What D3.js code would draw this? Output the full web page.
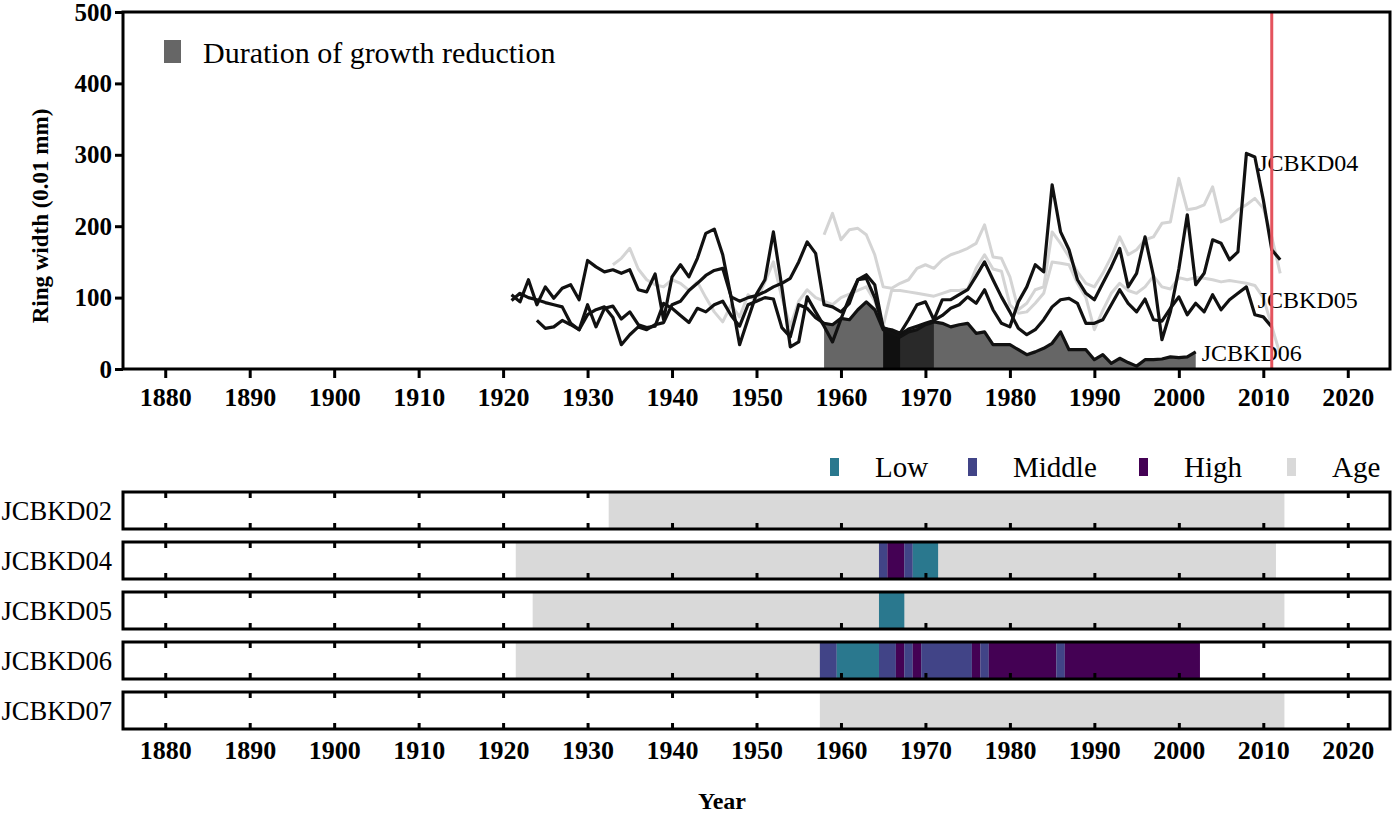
<!DOCTYPE html>
<html><head><meta charset="utf-8">
<script src="https://cdn.jsdelivr.net/npm/d3@7"></script>
<style>
body{margin:0;background:#fff}
svg{display:block}
text{font-family:"Liberation Serif","Times New Roman",Times,serif;fill:#000}
</style>
</head><body>
<svg id="c" width="1398" height="816"></svg>
<script>
// ---------------- data ----------------
const xTicks = [1880,1890,1900,1910,1920,1930,1940,1950,1960,1970,1980,1990,2000,2010,2020];
const yTicks = [0,100,200,300,400,500];

const jc02Start = 1933;
const jc02 = [146,155,169,140,125,118,115,125,120,110,122,100,80,66,90,73,104,95,122,150,100,60,95,111,100,95,90,100,105,110,115,95,60,110,110,108,106,104,102,106,110,110,112,141,160,140,137,90,78,80,92,106,150,148,146,120,100,55,82,106,120,110,106,115,130,115,112,128,125,128,127,125,122,124,122,120,117,100,60,20];

const jc04Start = 1921;
const jc04 = [104,94,125,90,115,99,113,118,97,152,143,136,139,134,139,111,108,133,69,129,146,129,155,190,196,160,100,34,70,105,125,192,115,31,38,101,80,60,38,70,100,125,127,100,58,53,48,56,60,64,68,75,85,90,101,92,111,83,64,59,94,115,146,136,258,192,167,125,106,97,120,143,169,115,134,185,130,41,80,140,216,118,134,181,176,153,164,302,297,237,167,153];

const jc05Start = 1924;
const jc05 = [68,57,59,68,62,55,76,83,87,72,34,48,59,55,62,65,90,95,110,120,131,138,141,101,95,100,103,108,115,120,127,150,178,162,90,87,80,92,125,132,118,57,55,50,69,90,94,69,97,97,104,111,130,150,125,101,80,57,48,55,69,87,97,99,92,64,64,69,90,111,92,80,98,69,67,85,101,76,92,80,104,83,97,106,115,76,73,59];

const jc06Start = 1921;
const jc06 = [96,106,100,97,93,90,87,64,55,90,59,85,88,70,80,62,58,60,92,85,75,65,85,80,90,95,75,60,90,95,100,98,58,45,90,85,72,64,62,71,69,83,94,83,55,50,45,52,55,62,66,64,59,62,64,50,52,34,34,34,27,20,24,29,36,52,27,27,27,13,20,8,15,9,4,13,13,14,17,16,17,24];

const jc07Start = 1958;
const jc07 = [188,218,181,195,197,188,160,115,113,120,125,141,146,141,153,160,164,169,176,202,157,155,129,83,92,111,115,192,176,157,136,120,115,134,157,185,160,167,181,185,204,206,267,223,225,230,255,206,211,223,230,239,225,185,134];

const cutYear = 2011;

// bottom panel
const trees = ["JCBKD02","JCBKD04","JCBKD05","JCBKD06","JCBKD07"];
const ageFirst = [1933,1922,1924,1922,1958];
const ageLast  = [2012,2011,2012,2002,2012];
const levels = ["Low","Middle","High","Age"];
const seg02 = [];
const seg04 = [[1965,1965,"Middle"],[1966,1967,"High"],[1968,1968,"Middle"],[1969,1971,"Low"]];
const seg05 = [[1965,1967,"Low"]];
const seg06 = [[1958,1959,"Middle"],[1960,1964,"Low"],[1965,1966,"Middle"],[1967,1967,"High"],[1968,1968,"Middle"],[1969,1969,"High"],[1970,1975,"Middle"],[1976,1976,"High"],[1977,1977,"Middle"],[1978,1985,"High"],[1986,1986,"Middle"],[1987,2002,"High"]];
const seg07 = [];

// ---------------- build ----------------
const svg = d3.select("#c");
const x = d3.scaleLinear().domain([1875,2025]).range([123,1390]);
const y = d3.scaleLinear().domain([0,500]).range([369,12]);
const color = d3.scaleOrdinal().domain(levels).range(["#2a788e","#414487","#440154","#d9d9d9"]);
const SERIF = '"Liberation Serif","Times New Roman",Times,serif';

function toPts(start, vals){ return vals.map((v,i)=>({yr:start+i, v:v})); }
const black = [
  {name:"JCBKD04", pts:toPts(jc04Start,jc04), seg:seg04},
  {name:"JCBKD05", pts:toPts(jc05Start,jc05), seg:seg05},
  {name:"JCBKD06", pts:toPts(jc06Start,jc06), seg:seg06}
];
const gray = [toPts(jc02Start,jc02), toPts(jc07Start,jc07)];

const line = d3.line().x(d=>x(d.yr)).y(d=>y(d.v));
const area = d3.area().x(d=>x(d.yr)).y0(y(0)).y1(d=>y(d.v));

const topG = svg.append("g");
black.forEach(s=>{
  const a = d3.min(s.seg, d=>d[0]), b = d3.max(s.seg, d=>d[1]);
  const p = s.pts.filter(d=>d.yr>=a && d.yr<=b);
  topG.append("path").attr("d",area(p)).attr("fill","#000").attr("fill-opacity",0.6);
});
gray.forEach(p=>{
  topG.append("path").attr("d",line(p)).attr("fill","none").attr("stroke","#d4d4d4").attr("stroke-width",3).attr("stroke-linejoin","round");
});
black.forEach(s=>{
  topG.append("path").attr("d",line(s.pts)).attr("fill","none").attr("stroke","#111").attr("stroke-width",3.2).attr("stroke-linejoin","round");
});
const lastOf = s=>s.pts[s.pts.length-1];
const labOff = {"JCBKD04":[-22,-97],"JCBKD05":[-14,-27],"JCBKD06":[6,1]};
black.forEach(s=>{
  const l = lastOf(s);
  topG.append("text").attr("x",x(l.yr)+labOff[s.name][0]).attr("y",y(l.v)+labOff[s.name][1])
    .attr("dy","0.35em").attr("font-size",24).text(s.name);
});
topG.append("line").attr("x1",x(cutYear)).attr("x2",x(cutYear)).attr("y1",y(500)).attr("y2",y(0))
  .attr("stroke","#e4535d").attr("stroke-width",3);
topG.append("rect").attr("x",x(1875)).attr("y",y(500)).attr("width",x(2025)-x(1875)).attr("height",y(0)-y(500))
  .attr("fill","none").attr("stroke","#000").attr("stroke-width",3);
const xa = topG.append("g").attr("transform",`translate(0,${y(0)})`)
  .call(d3.axisBottom(x).tickValues(xTicks).tickSize(9).tickFormat(d3.format("d")));
xa.select(".domain").remove();
xa.selectAll("line").attr("stroke-width",3);
xa.selectAll("text").attr("y",19).attr("font-size",26).attr("font-weight","bold").style("font-family",SERIF);
const ya = topG.append("g").attr("transform",`translate(${x(1875)},0)`)
  .call(d3.axisLeft(y).tickValues(yTicks).tickSize(8));
ya.select(".domain").remove();
ya.selectAll("line").attr("stroke-width",3);
ya.selectAll("text").attr("font-size",25).attr("font-weight","bold").attr("x",-11).style("font-family",SERIF);
topG.append("text").attr("transform","translate(48,216) rotate(-90)").attr("text-anchor","middle")
  .attr("font-size",23).attr("font-weight","bold").text("Ring width (0.01 mm)");
topG.append("rect").attr("x",164).attr("y",40).attr("width",17).attr("height",23).attr("fill","#666");
topG.append("text").attr("x",203).attr("y",52).attr("dy","0.35em").attr("font-size",30).text("Duration of growth reduction");

// ---------------- bottom panel ----------------
const bot = svg.append("g");
const rowY = d3.scaleBand().domain(trees).range([492,742]).paddingInner(0);
const rowH = 37;
const segs = [seg02,seg04,seg05,seg06,seg07];
trees.forEach((t,i)=>{
  const y0 = rowY(t);
  const g = bot.append("g");
  const ta = g.append("g").attr("transform",`translate(0,${y0})`)
    .call(d3.axisBottom(x).tickValues(xTicks).tickSize(6).tickFormat(""));
  ta.select(".domain").remove();
  ta.selectAll("line").attr("stroke-width",3);
  g.append("rect").attr("x",x(ageFirst[i]-0.5)).attr("y",y0).attr("width",x(ageLast[i]+0.5)-x(ageFirst[i]-0.5))
    .attr("height",rowH).attr("fill",color("Age"));
  segs[i].forEach(s=>{
    g.append("rect").attr("x",x(s[0]-0.5)).attr("y",y0).attr("width",x(s[1]+0.5)-x(s[0]-0.5))
      .attr("height",rowH).attr("fill",color(s[2]));
  });
  const ba = g.append("g").attr("transform",`translate(0,${y0+rowH})`)
    .call(d3.axisTop(x).tickValues(xTicks).tickSize(6).tickFormat(""));
  ba.select(".domain").remove();
  ba.selectAll("line").attr("stroke-width",3);
  g.append("rect").attr("x",x(1875)).attr("y",y0).attr("width",x(2025)-x(1875)).attr("height",rowH)
    .attr("fill","none").attr("stroke","#000").attr("stroke-width",3);
  g.append("text").attr("x",112).attr("y",y0+rowH/2).attr("dy","0.35em").attr("text-anchor","end")
    .attr("font-size",26.5).text(t);
});
const bx = bot.append("g").attr("transform",`translate(0,${rowY(trees[4])+rowH})`)
  .call(d3.axisBottom(x).tickValues(xTicks).tickSize(0).tickFormat(d3.format("d")));
bx.select(".domain").remove();
bx.selectAll("text").attr("y",12).attr("font-size",26).attr("font-weight","bold").style("font-family",SERIF);
bot.append("text").attr("x",722).attr("y",801).attr("dy","0.35em").attr("text-anchor","middle")
  .attr("font-size",24).attr("font-weight","bold").text("Year");
const legX = [830,968,1139,1287];
levels.forEach((l,i)=>{
  bot.append("rect").attr("x",legX[i]).attr("y",458).attr("width",9).attr("height",18).attr("fill",color(l));
  bot.append("text").attr("x",legX[i]+45).attr("y",467).attr("dy","0.35em").attr("font-size",29).text(l);
});
</script>
</body></html>
